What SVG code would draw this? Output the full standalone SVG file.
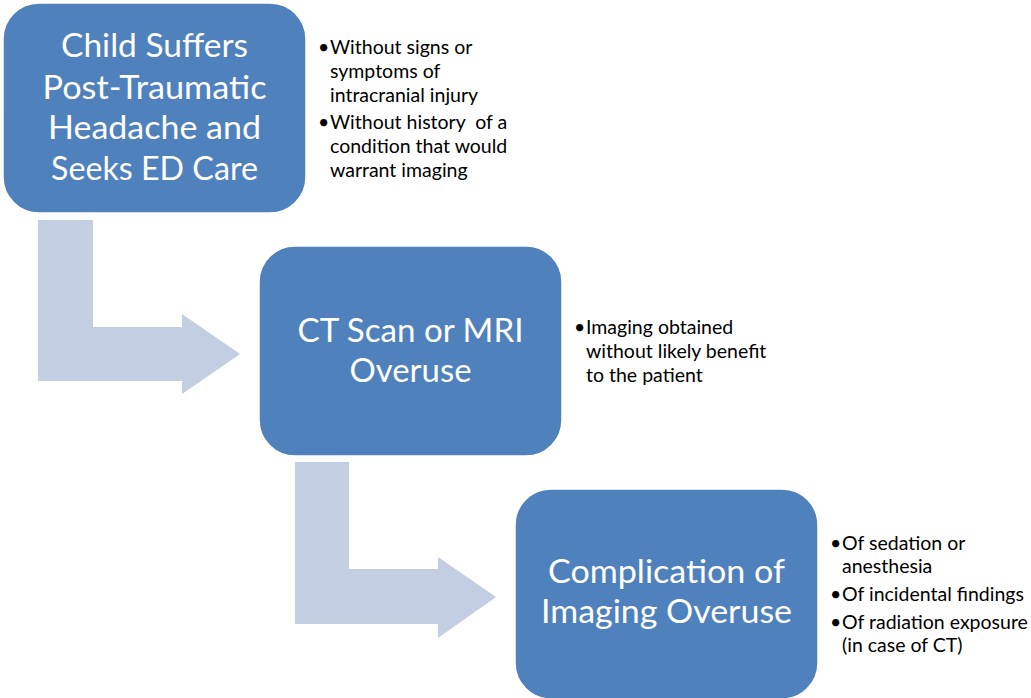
<svg xmlns="http://www.w3.org/2000/svg" width="1031" height="698" viewBox="0 0 1031 698">
<style>
.box{fill:#4F81BD;stroke:#FFFFFF;stroke-width:1.5}
.arrow{fill:#C3CEE2}
.big{font-family:Lato,"Liberation Sans",sans-serif;font-size:33px;fill:#FFFFFF;text-anchor:middle}
.bul{font-family:Lato,"Liberation Sans",sans-serif;font-size:19.5px;fill:#000000}
</style>
<rect width="1031" height="698" fill="#FFFFFF"/>
<g id="connectors">
<polygon class="arrow" points="38,220 93,220 93,327 182,327 182,314 240,354 182,394 182,381 38,381"/>
<polygon class="arrow" points="295,462 349,462 349,569 438,569 438,557 496,597 438,638 438,624 295,624"/>
</g>
<g id="node1">
<rect class="box" x="3" y="3" width="303" height="210" rx="36" ry="36"/>
<text class="big" x="154.5" y="57" textLength="187" lengthAdjust="spacingAndGlyphs">Child Suffers</text>
<text class="big" x="154.5" y="99" textLength="224" lengthAdjust="spacingAndGlyphs">Post-Traumatic</text>
<text class="big" x="154.5" y="139" textLength="213" lengthAdjust="spacingAndGlyphs">Headache and</text>
<text class="big" x="154.5" y="180" textLength="207" lengthAdjust="spacingAndGlyphs">Seeks ED Care</text>
</g>
<g id="notes1">
<text class="bul" x="318" y="54">•</text><text class="bul" x="330" y="54">Without signs or</text>
<text class="bul" x="330" y="78">symptoms of</text>
<text class="bul" x="330" y="102">intracranial injury</text>
<text class="bul" x="318" y="129">•</text><text class="bul" x="330" y="129" xml:space="preserve">Without history  of a</text>
<text class="bul" x="330" y="153">condition that would</text>
<text class="bul" x="330" y="177">warrant imaging</text>
</g>
<g id="node2">
<rect class="box" x="259" y="246" width="303" height="210" rx="36" ry="36"/>
<text class="big" x="410.5" y="342" textLength="226" lengthAdjust="spacingAndGlyphs">CT Scan or MRI</text>
<text class="big" x="410.5" y="382" textLength="122" lengthAdjust="spacingAndGlyphs">Overuse</text>
</g>
<g id="notes2">
<text class="bul" x="574" y="334">•</text><text class="bul" x="586" y="334">Imaging obtained</text>
<text class="bul" x="586" y="358">without likely benefit</text>
<text class="bul" x="586" y="382">to the patient</text>
</g>
<g id="node3">
<rect class="box" x="515" y="489" width="303" height="210" rx="36" ry="36"/>
<text class="big" x="666.5" y="583" textLength="237" lengthAdjust="spacingAndGlyphs">Complication of</text>
<text class="big" x="666.5" y="623" textLength="251" lengthAdjust="spacingAndGlyphs">Imaging Overuse</text>
</g>
<g id="notes3">
<text class="bul" x="830" y="550">•</text><text class="bul" x="842" y="550">Of sedation or</text>
<text class="bul" x="842" y="573">anesthesia</text>
<text class="bul" x="830" y="601">•</text><text class="bul" x="842" y="601">Of incidental findings</text>
<text class="bul" x="830" y="629">•</text><text class="bul" x="842" y="629">Of radiation exposure</text>
<text class="bul" x="842" y="652">(in case of CT)</text>
</g>
</svg>
